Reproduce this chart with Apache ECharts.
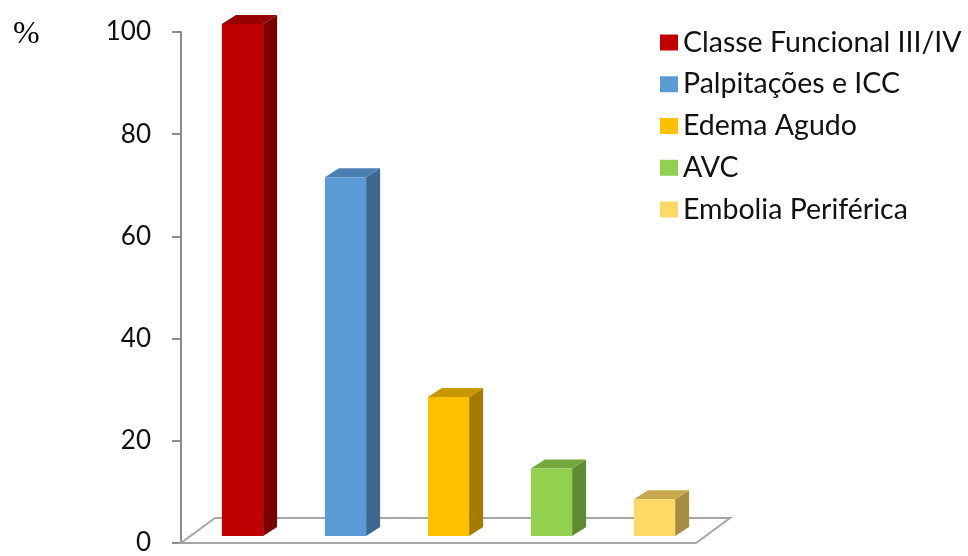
<!DOCTYPE html>
<html>
<head>
<meta charset="utf-8">
<script src="https://cdn.jsdelivr.net/npm/echarts@6/dist/echarts.min.js"></script>
<style>html,body{margin:0;padding:0;background:#fff}#c{width:968px;height:556px}</style>
</head>
<body>
<div id="c"></div>
<script>
var categories = ['Classe Funcional III/IV', 'Palpitações e ICC', 'Edema Agudo', 'AVC', 'Embolia Periférica'];
var values = [100, 70, 27, 13, 7];
var yTicks = [0, 20, 40, 60, 80, 100];
var frontColors = ['#c00000', '#5b9bd5', '#ffc000', '#92d050', '#ffd966'];
var sideColors  = ['#7a0000', '#3b6790', '#a67c00', '#5f8a34', '#a68d42'];
var topColors   = ['#960000', '#4a7fb0', '#c99700', '#72a83e', '#c8a84f'];

var FONT = 'Lato, "Open Sans", sans-serif';

function barRenderer(i) {
  return function (params, api) {
    var idx = api.value(0), val = api.value(1);
    var base = api.coord([idx, 0]);
    var tp = api.coord([idx, val]);
    var band = api.size([1, 0])[0];
    var w = band * 0.4;
    var x = base[0] - w / 2 + 10;
    var y = tp[1] - 8;
    var h = base[1] - tp[1] + 1;
    var dx = 14, dy = -9;
    return {
      type: 'group',
      children: [
        { type: 'polygon', shape: { points: [[x + w, y], [x + w + dx, y + dy], [x + w + dx, y + h + dy], [x + w, y + h]] }, style: { fill: sideColors[i] } },
        { type: 'polygon', shape: { points: [[x, y], [x + dx, y + dy], [x + w + dx, y + dy], [x + w, y]] }, style: { fill: topColors[i] } },
        { type: 'rect', shape: { x: x, y: y, width: w, height: h }, style: { fill: frontColors[i] } }
      ]
    };
  };
}

function floorRenderer(params, api) {
  var cs = params.coordSys;
  var y0 = api.coord([0, 0])[1];
  var x0 = cs.x, x1 = cs.x + cs.width;
  var dx = 34, dy = -25;
  return {
    type: 'polygon',
    shape: { points: [[x0, y0], [x1, y0], [x1 + dx, y0 + dy], [x0 + dx, y0 + dy]] },
    style: { fill: 'none', stroke: '#a6a6a6', lineWidth: 2 }
  };
}

var series = [{
  type: 'custom',
  name: '__floor',
  renderItem: floorRenderer,
  data: [[0, 0]],
  silent: true,
  z: 1
}];
categories.forEach(function (c, i) {
  series.push({
    type: 'custom',
    name: c,
    renderItem: barRenderer(i),
    itemStyle: { color: frontColors[i] },
    encode: { x: 0, y: 1 },
    data: [[i, values[i]]],
    z: 2
  });
});

var chart = echarts.init(document.getElementById('c'), null, { renderer: 'canvas' });
chart.setOption({
  animation: false,
  backgroundColor: '#fff',
  title: {
    text: '%', left: 8, top: 14,
    textStyle: { fontFamily: '"Liberation Serif", serif', fontSize: 32, fontWeight: 'normal', color: '#000' }
  },
  legend: {
    data: categories,
    orient: 'vertical',
    left: 655, top: 23,
    icon: 'rect',
    itemWidth: 18, itemHeight: 16,
    itemGap: 12.75,
    textStyle: { fontFamily: FONT, fontSize: 28.5, lineHeight: 28, color: '#111' }
  },
  grid: { left: 181, top: 32, width: 515, height: 511, containLabel: false },
  xAxis: {
    type: 'category',
    data: categories.map(function (c, i) { return i; }),
    axisLine: { show: false },
    axisTick: { show: false },
    axisLabel: { show: false },
    splitLine: { show: false }
  },
  yAxis: {
    type: 'value',
    min: yTicks[0], max: yTicks[yTicks.length - 1], interval: 20,
    axisLine: { show: true, lineStyle: { color: '#8c8c8c', width: 2 } },
    axisTick: { show: true, length: 9, lineStyle: { color: '#8c8c8c', width: 2 } },
    axisLabel: { margin: 30, fontFamily: FONT, fontSize: 26, color: '#111' },
    splitLine: { show: false }
  },
  series: series
});
</script>
</body>
</html>
